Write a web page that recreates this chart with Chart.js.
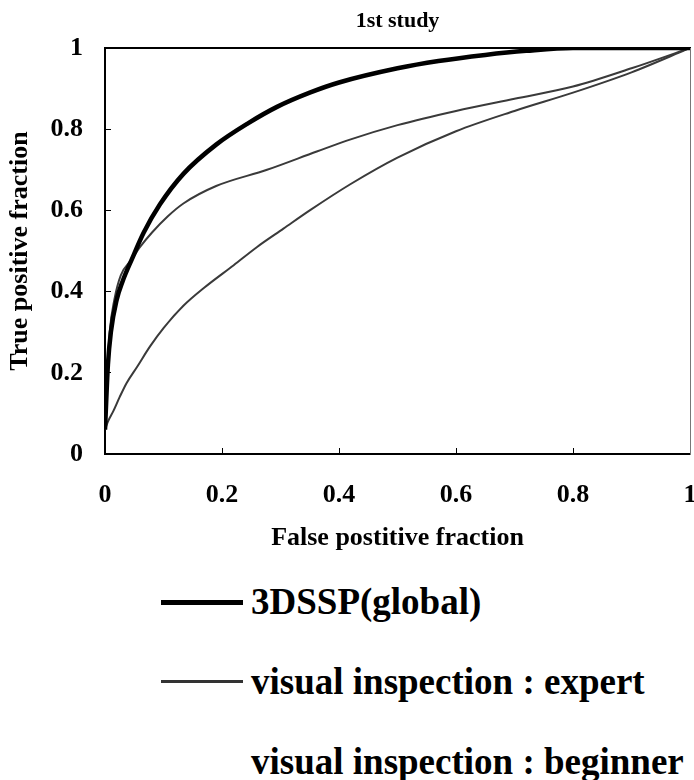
<!DOCTYPE html>
<html>
<head>
<meta charset="utf-8">
<script src="https://cdn.jsdelivr.net/npm/chart.js@4"></script>
<style>
    body { margin: 0; background: #fff; }
    #wrap { position: relative; width: 694px; height: 780px; overflow: hidden; }
    #chart-box { position: absolute; left: 0; top: 0; width: 694px; height: 570px; }
    .legend-row { position: absolute; left: 0; height: 40px; }
    .legend-line { position: absolute; left: 161px; width: 82px; background: #000; }
    .legend-text {
        position: absolute; left: 251px; top: 0; white-space: nowrap;
        font: bold 37px "Liberation Serif", "Times New Roman", serif;
        line-height: 40px; color: #000;
    }
</style>
</head>
<body>
<div id="wrap">
    <div id="chart-box"><canvas id="roc-chart"></canvas></div>
    <div class="legend-row" style="top:582px">
        <div class="legend-line" style="top:18px;height:5px"></div>
        <div class="legend-text">3DSSP(global)</div>
    </div>
    <div class="legend-row" style="top:662px">
        <div class="legend-line" style="top:18px;height:3px;background:#333"></div>
        <div class="legend-text">visual inspection : expert</div>
    </div>
    <div class="legend-row" style="top:742px">
        <div class="legend-text">visual inspection : beginner</div>
    </div>
</div>
<script>
// Axis ticks
const tickValues = [0, 0.2, 0.4, 0.6, 0.8, 1];
const tickLabels = ['0', '0.2', '0.4', '0.6', '0.8', '1'];

// 3DSSP(global) - false / true positive fractions
const fpr3DSSP = [0, 0.005, 0.01, 0.02, 0.03, 0.046, 0.066, 0.094, 0.134, 0.19, 0.245, 0.294, 0.35, 0.4, 0.5, 0.57, 0.65, 0.72, 0.8, 1];
const tpr3DSSP = [0.06, 0.22, 0.3, 0.38, 0.425, 0.48, 0.545, 0.615, 0.69, 0.762, 0.815, 0.855, 0.89, 0.915, 0.95, 0.968, 0.983, 0.993, 1, 1];

// visual inspection : expert
const fprExpert = [0, 0.004, 0.008, 0.016, 0.027, 0.046, 0.06, 0.08, 0.107, 0.134, 0.19, 0.277, 0.362, 0.42, 0.5, 0.6, 0.7, 0.8, 0.9, 1];
const tprExpert = [0.08, 0.2, 0.3, 0.38, 0.44, 0.48, 0.51, 0.545, 0.585, 0.617, 0.66, 0.7, 0.745, 0.775, 0.81, 0.845, 0.875, 0.905, 0.95, 1];

// visual inspection : beginner
const fprBeginner = [0, 0.005, 0.014, 0.025, 0.037, 0.055, 0.077, 0.1, 0.134, 0.17, 0.22, 0.26, 0.305, 0.35, 0.42, 0.5, 0.6, 0.7, 0.8, 0.9, 1];
const tprBeginner = [0.06, 0.08, 0.105, 0.14, 0.175, 0.215, 0.265, 0.31, 0.365, 0.41, 0.465, 0.51, 0.555, 0.6, 0.665, 0.73, 0.795, 0.845, 0.89, 0.94, 1];

const FONT = '"Liberation Serif", "Times New Roman", serif';

function toPoints(xs, ys) {
    return xs.map((x, i) => ({ x: x, y: ys[i] }));
}

function setTicks(scale) {
    scale.ticks = tickValues.map(v => ({ value: v }));
}

function frameAxis(position, dashed) {
    return {
        type: 'linear',
        position: position,
        min: 0,
        max: 1,
        ticks: { display: false },
        grid: { drawOnChartArea: false, drawTicks: false },
        border: dashed
            ? { display: true, color: '#777', width: 1, dash: [2, 3] }
            : { display: true, color: '#000', width: 2 }
    };
}

const ctx = document.getElementById('roc-chart').getContext('2d');

new Chart(ctx, {
    type: 'line',
    data: {
        datasets: [
            {
                label: '3DSSP(global)',
                data: toPoints(fpr3DSSP, tpr3DSSP),
                borderColor: '#000',
                borderWidth: 4.5,
                xAxisID: 'x',
                yAxisID: 'y'
            },
            {
                label: 'visual inspection : expert',
                data: toPoints(fprExpert, tprExpert),
                borderColor: '#3a3a3a',
                borderWidth: 2,
                xAxisID: 'x',
                yAxisID: 'y'
            },
            {
                label: 'visual inspection : beginner',
                data: toPoints(fprBeginner, tprBeginner),
                borderColor: '#3a3a3a',
                borderWidth: 2,
                xAxisID: 'x',
                yAxisID: 'y'
            }
        ]
    },
    options: {
        responsive: true,
        maintainAspectRatio: false,
        animation: false,
        parsing: false,
        elements: {
            point: { radius: 0 },
            line: { cubicInterpolationMode: 'monotone', fill: false }
        },
        layout: { padding: { left: 0, right: 4, top: 0, bottom: 0 } },
        plugins: {
            legend: { display: false },
            tooltip: { enabled: false },
            title: {
                display: true,
                text: '1st study',
                fullSize: false,
                color: '#000',
                font: { family: FONT, size: 22, weight: 'bold' },
                padding: { top: 8, bottom: 13.6 }
            }
        },
        scales: {
            x: {
                type: 'linear',
                position: 'bottom',
                min: 0,
                max: 1,
                afterBuildTicks: setTicks,
                afterFit: (s) => { s.height = 116; s.paddingRight = 0; s.paddingLeft = 0; },
                ticks: {
                    color: '#000',
                    padding: 32,
                    maxRotation: 0,
                    font: { family: FONT, size: 26, weight: 'bold' },
                    callback: (v, i) => tickLabels[i]
                },
                grid: { drawOnChartArea: false, drawTicks: true, tickLength: -6, color: '#000' },
                border: { display: true, color: '#000', width: 2 },
                title: {
                    display: true,
                    text: 'False postitive fraction',
                    color: '#000',
                    font: { family: FONT, size: 26, weight: 'bold' },
                    padding: { top: 0, bottom: 16 }
                }
            },
            y: {
                type: 'linear',
                position: 'left',
                min: 0,
                max: 1,
                afterBuildTicks: setTicks,
                afterFit: (s) => { s.width = 105; },
                ticks: {
                    color: '#000',
                    padding: 28,
                    font: { family: FONT, size: 26, weight: 'bold' },
                    callback: (v, i) => tickLabels[i]
                },
                grid: { drawOnChartArea: false, drawTicks: true, tickLength: -6, color: '#000' },
                border: { display: true, color: '#000', width: 2 },
                title: {
                    display: true,
                    text: 'True positive fraction',
                    color: '#000',
                    font: { family: FONT, size: 26, weight: 'bold' },
                    padding: { top: 5, bottom: 0 }
                }
            },
            xTop: frameAxis('top', false),
            yRight: frameAxis('right', true)
        }
    }
});
</script>
</body>
</html>
